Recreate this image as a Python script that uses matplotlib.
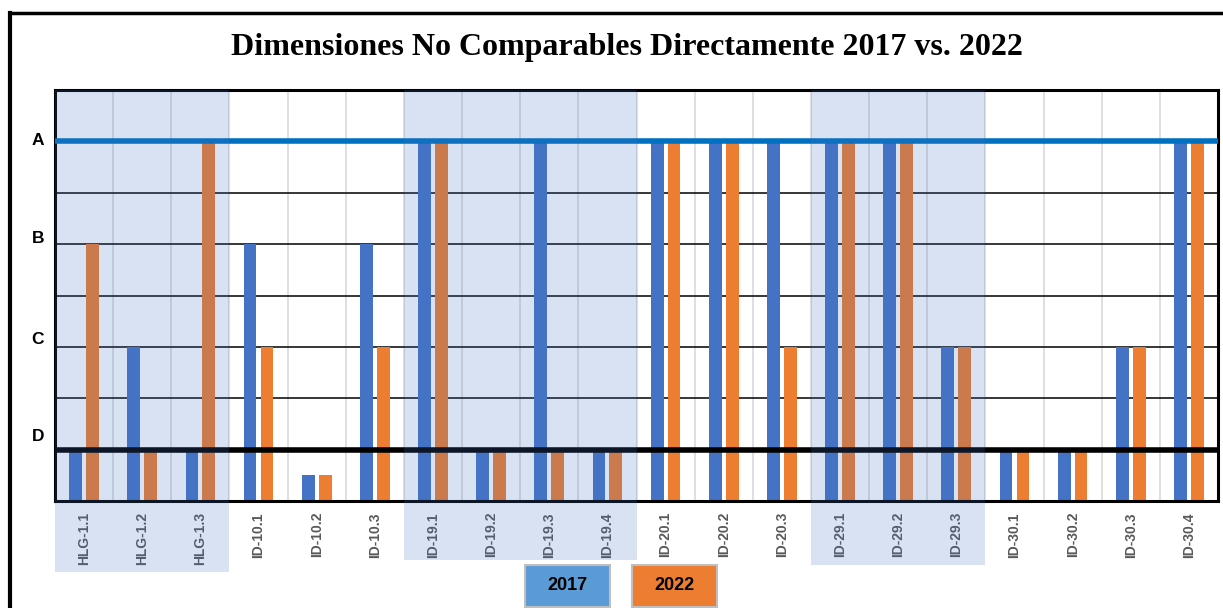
import matplotlib
matplotlib.use("Agg")
import matplotlib.pyplot as plt
from matplotlib.patches import Rectangle
from matplotlib.lines import Line2D
import matplotlib.transforms as mtransforms
import numpy as np

# data (A=7, B=5, C=3, D=1)
categories = ["HLG-1.1", "HLG-1.2", "HLG-1.3", "ID-10.1", "ID-10.2", "ID-10.3",
              "ID-19.1", "ID-19.2", "ID-19.3", "ID-19.4", "ID-20.1", "ID-20.2",
              "ID-20.3", "ID-29.1", "ID-29.2", "ID-29.3", "ID-30.1", "ID-30.2",
              "ID-30.3", "ID-30.4"]
vals_2017 = [1, 3, 1, 5, 0.5, 5, 7, 1, 7, 1, 7, 7, 7, 7, 7, 3, 1, 1, 3, 7]
vals_2022 = [5, 1, 7, 3, 0.5, 3, 7, 1, 1, 1, 7, 7, 3, 7, 7, 3, 1, 1, 3, 7]
series_names = ["2017", "2022"]
level_names = ["A", "B", "C", "D"]
level_label_pos = [7.04, 5.13, 3.18, 1.29]
grid_levels = [1, 2, 3, 4, 5, 6, 7]
# shaded groups: first and last category index
groups = [(0, 2), (6, 9), (13, 15)]
group_bottom_px = [572, 560, 565]

W, H = 1223, 608
fig = plt.figure(figsize=(W / 100, H / 100), dpi=100)
ax = fig.add_axes([55 / W, 1 - 501 / H, (1218 - 55) / W, (501 - 90) / H])

x = np.arange(len(categories))
bw = 0.22
ax.bar(x - 0.145, vals_2017, bw, color="#4472C4", zorder=2)
ax.bar(x + 0.145, vals_2022, bw, color="#ED7D31", zorder=2)

# horizontal grid
for lv in grid_levels:
    if lv == 7:
        ax.axhline(lv, color="#0070C0", lw=4, zorder=3)
    elif lv == 1:
        ax.axhline(lv, color="black", lw=4, zorder=3)
    else:
        ax.axhline(lv, color="black", lw=1.1, zorder=1)
# vertical grid between categories
for b in x[:-1] + 0.5:
    ax.axvline(b, color="#D9D9D9", lw=1.2, zorder=0.5)

ax.set_xlim(-0.5, len(categories) - 0.5)
ax.set_ylim(0, 8)
ax.set_xticks(x)
ax.set_xticklabels(categories, rotation=90, fontsize=10, fontweight="bold",
                   color="#595959", family="Liberation Sans")
ax.set_yticks(level_label_pos)
ax.set_yticklabels(level_names, fontsize=12.5, fontweight="bold", family="Liberation Sans")
ax.tick_params(axis="both", length=0)
ax.tick_params(axis="x", pad=8)
ax.tick_params(axis="y", pad=8)
for s in ax.spines.values():
    s.set_linewidth(2.2)
    s.set_color("black")

# translucent group shading, extending into label area
trans = mtransforms.blended_transform_factory(ax.transData, ax.transAxes)
for (g0, g1), bpx in zip(groups, group_bottom_px):
    y0 = (501 - bpx) / (501 - 90)
    ax.add_patch(Rectangle((g0 - 0.5, y0), g1 - g0 + 1, 1 - y0, transform=trans,
                           facecolor="#4472C4", alpha=0.2, edgecolor="none",
                           clip_on=False, zorder=5))

# title
fig.text(627 / W, 1 - 47 / H, "Dimensiones No Comparables Directamente 2017 vs. 2022",
         ha="center", va="center", fontsize=23, fontweight="bold",
         family="Liberation Serif")

# legend boxes
leg_colors = ["#5B9BD5", "#ED7D31"]
leg_x = [525, 632]
for name, c, lx in zip(series_names, leg_colors, leg_x):
    fig.patches.append(Rectangle((lx / W, 1 - 607 / H), 85 / W, 42 / H,
                                 transform=fig.transFigure, facecolor=c,
                                 edgecolor="#BFBFBF", lw=1.5))
    fig.text((lx + 42.5) / W, 1 - 586 / H, name, ha="center", va="center",
             fontsize=13, fontweight="bold", family="Liberation Sans")

# outer frame (left and top visible)
fig.add_artist(Line2D([10 / W, 10 / W], [0, 1 - 13 / H], transform=fig.transFigure,
                      color="black", lw=3))
fig.add_artist(Line2D([10 / W, 1], [1 - 13 / H, 1 - 13 / H], transform=fig.transFigure,
                      color="black", lw=2.5))

fig.savefig("out.png", dpi=100)
